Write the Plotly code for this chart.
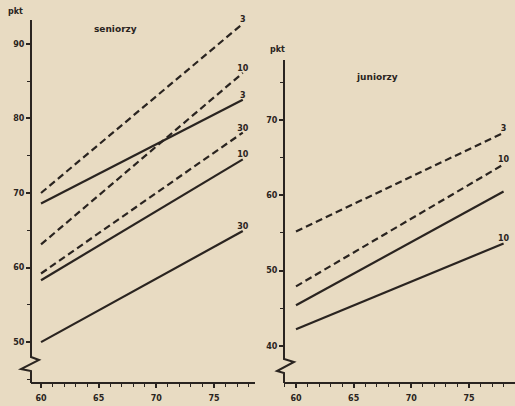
import plotly.graph_objects as go

W, H = 515, 406
BG = "#e8dbc2"
INK = "#2a2420"

# ---- data ----
sen_age = [60, 77.5]
sen_dashed = {"3": [70.0, 92.7], "10": [63.1, 86.1], "30": [59.2, 78.1]}
sen_solid = {"3": [68.6, 82.5], "10": [58.3, 74.5], "30": [50.0, 64.9]}

jun_age = [60, 78]
jun_dashed = {"3": [55.2, 68.3], "10": [47.9, 64.1]}
jun_solid = {"": [45.4, 60.5], "10": [42.2, 53.6]}

x_ticks = [60, 65, 70, 75]
sen_y_ticks = [50, 60, 70, 80, 90]
jun_y_ticks = [40, 50, 60, 70]

fig = go.Figure()

def add_lines(data, ages, dash, xa, ya):
    for lab, vals in data.items():
        fig.add_trace(go.Scatter(
            x=ages, y=vals, mode="lines", xaxis=xa, yaxis=ya,
            line=dict(color=INK, width=2.2, dash=dash), showlegend=False,
            hoverinfo="skip", cliponaxis=False))
        fig.add_trace(go.Scatter(
            x=[ages[-1]], y=[vals[-1]], mode="text", text=[lab],
            textposition="top center", xaxis=xa, yaxis=ya, cliponaxis=False,
            textfont=dict(family="DejaVu Sans", size=8, color=INK, weight="bold"),
            showlegend=False, hoverinfo="skip"))

add_lines(sen_dashed, sen_age, "7px,4px", "x", "y")
add_lines(sen_solid, sen_age, "solid", "x", "y")
add_lines(jun_dashed, jun_age, "7px,4px", "x2", "y2")
add_lines(jun_solid, jun_age, "solid", "x2", "y2")

def px(x):
    return x / W

def py(y):
    return 1 - y / H

tickfont = dict(family="DejaVu Sans", size=8, color=INK, weight="bold")

xcommon = dict(showgrid=False, zeroline=False, showline=True, linecolor=INK,
               linewidth=2, ticks="outside", ticklen=4, tickwidth=1.5,
               tickcolor=INK, tickvals=x_ticks, tickfont=tickfont,
               ticklabelstandoff=3, automargin=False,
               minor=dict(dtick=1, ticks="outside", ticklen=3, tickwidth=1,
                          tickcolor=INK, tick0=0))
ycommon = dict(showgrid=False, zeroline=False, showline=False,
               ticks="outside", ticklen=4, tickwidth=1.5, tickcolor=INK,
               tickfont=tickfont, automargin=False,
               minor=dict(dtick=5, ticks="outside", ticklen=3, tickwidth=1,
                          tickcolor=INK, tick0=0))

fig.update_layout(
    width=W, height=H, margin=dict(l=0, r=0, t=0, b=0, autoexpand=False),
    paper_bgcolor=BG, plot_bgcolor=BG,
    xaxis=dict(domain=[px(31), px(255)], range=[59.13, 78.56], anchor="y", **xcommon),
    yaxis=dict(domain=[py(382), py(20)], range=[44.65, 93.2], anchor="x",
               tickvals=sen_y_ticks, **ycommon),
    xaxis2=dict(domain=[px(284), 1.0], range=[58.96, 78.99], anchor="y2", **xcommon),
    yaxis2=dict(domain=[py(382), py(60)], range=[35.2, 77.97], anchor="x2",
                tickvals=jun_y_ticks, **ycommon),
)

def axis_path(ax, top, b1, b2, right, left, bottom):
    pts = [(ax, top), (ax, b1), (right, b1 + 3), (left, b2 - 2), (ax, b2), (ax, bottom)]
    d = "M " + " L ".join(f"{px(a):.5f},{py(b):.5f}" for a, b in pts)
    return dict(type="path", path=d, xref="paper", yref="paper",
                line=dict(color=INK, width=2), layer="above")

fig.add_shape(axis_path(31, 20, 357, 371, 39, 21, 383))
fig.add_shape(axis_path(284, 60, 359, 373, 294, 277, 383))

def label(text, x, y, size=9):
    fig.add_annotation(text=text, x=px(x), y=py(y), xref="paper", yref="paper",
                       showarrow=False, xanchor="center", yanchor="middle",
                       font=dict(family="DejaVu Sans", size=size, color=INK,
                                 weight="bold"))

label("seniorzy", 115, 29)
label("juniorzy", 377, 77)
label("pkt", 15, 12, 8)
label("pkt", 277, 50, 8)

fig.write_html("out.html", config={"displayModeBar": False},
               post_script="document.body.style.margin='0';document.body.style.overflow='hidden';")
